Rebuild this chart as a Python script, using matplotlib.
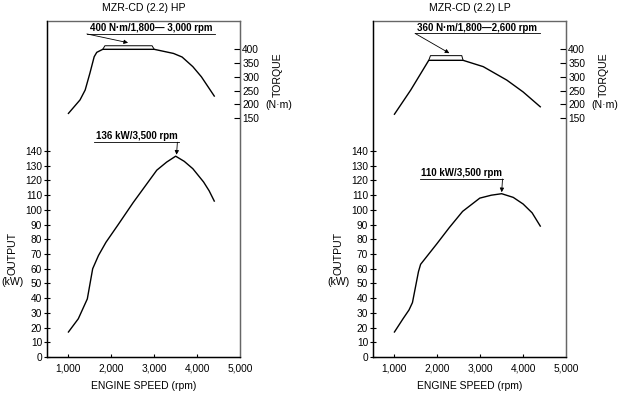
import matplotlib
matplotlib.use('Agg')
import matplotlib.pyplot as plt

plt.rcParams['font.family'] = ['Liberation Sans', 'DejaVu Sans']

# ── data ──────────────────────────────────────────────────────────────
HP_TQ_RPM = [1000, 1270, 1390, 1500, 1600, 1660, 1800, 3000, 3450, 3650, 3900, 4100, 4400]
HP_TQ_NM  = [167, 216, 252, 313, 373, 389, 400, 400, 385, 372, 337, 300, 230]
HP_BAND_RPM = [1800, 1850, 2950, 3000]
HP_BAND_NM  = [400, 413, 413, 400]
HP_KW_RPM = [1000, 1230, 1440, 1565, 1700, 1875, 2160, 2510, 2710, 3060, 3290, 3500,
             3700, 3900, 4150, 4280, 4400]
HP_KW     = [17, 26, 39.5, 60, 69, 78, 90, 105, 113, 127, 132.5, 136.5,
             133, 128, 119, 113, 106]

LP_TQ_RPM = [1000, 1380, 1800, 2600, 3070, 3620, 4000, 4400]
LP_TQ_NM  = [164, 252, 360, 360, 337, 288, 245, 191]
LP_BAND_RPM = [1800, 1840, 2570, 2600]
LP_BAND_NM  = [360, 377, 377, 360]
LP_KW_RPM = [1000, 1200, 1340, 1420, 1560, 1610, 1990, 2280, 2590, 2990, 3260, 3500,
             3770, 4000, 4210, 4400]
LP_KW     = [17, 26, 32, 37, 58, 63, 77, 88, 99, 108, 110, 111,
             108.5, 104, 98, 89]

TQ_TICKS = [150, 200, 250, 300, 350, 400]
KW_TICKS = [0, 10, 20, 30, 40, 50, 60, 70, 80, 90, 100, 110, 120, 130, 140]
RPM_TICKS = [1000, 2000, 3000, 4000, 5000]

W, H = 621, 396
fig = plt.figure(figsize=(W / 100, H / 100), dpi=100)


def px(x, y):
    return x / W, 1 - y / H


def panel(left, title, tq_rpm, tq, band_rpm, band_nm, kw_rpm, kw,
          tq_txt, tq_txt_xy, tq_line, tq_arrow_to,
          kw_txt, kw_txt_xy, kw_line, kw_arrow_to):
    ax = fig.add_axes([left / W, 1 - 357 / H, 193 / W, 336 / H])
    ax.set_xlim(500, 5000)
    ax.set_ylim(0, 228.4)
    ax.plot(kw_rpm, kw, color='k', lw=1.0)
    ax.set_yticks(KW_TICKS)
    ax.set_xticks(RPM_TICKS)
    ax.set_xticklabels([f'{v:,}' for v in RPM_TICKS])
    ax.tick_params(axis='y', direction='inout', length=5, width=0.8,
                   labelsize=7.3, pad=1)
    ax.tick_params(axis='x', direction='in', length=2.5, width=0.8,
                   labelsize=7.3, pad=5)
    ax.xaxis.get_major_ticks()[-1].tick1line.set_visible(False)
    for s in ['top', 'right']:
        ax.spines[s].set_color('#666666')
        ax.spines[s].set_linewidth(1.0)
    for s in ['left', 'bottom']:
        ax.spines[s].set_linewidth(1.0)

    tx = ax.twinx()
    tx.set_ylim(-719, 503)
    tx.plot(tq_rpm, tq, color='k', lw=1.0)
    tx.plot(band_rpm, band_nm, color='k', lw=0.7)
    tx.set_yticks(TQ_TICKS)
    tx.tick_params(axis='y', direction='in', length=4, width=0.8,
                   labelsize=7.3, pad=1.5)
    tx.spines['right'].set_color('#666666')
    tx.spines['top'].set_visible(False)

    # torque annotation with underline
    tx.text(tq_txt_xy[0], tq_txt_xy[1], tq_txt, ha='center', va='bottom',
            fontsize=7, fontweight='bold')
    tx.plot(tq_line[0], [tq_line[1]] * 2, color='k', lw=0.6, clip_on=False)
    tx.annotate('', xy=tq_arrow_to, xytext=(tq_line[0][0], tq_line[1]),
                arrowprops=dict(arrowstyle='-|>', lw=0.6, color='k',
                                mutation_scale=6, shrinkA=0, shrinkB=0))
    # output annotation with underline
    ax.text(kw_txt_xy[0], kw_txt_xy[1], kw_txt, ha='center', va='bottom',
            fontsize=7, fontweight='bold')
    ax.plot(kw_line[0], [kw_line[1]] * 2, color='k', lw=0.6)
    ax.annotate('', xy=kw_arrow_to, xytext=(kw_arrow_to[0] + 20, kw_line[1]),
                arrowprops=dict(arrowstyle='-|>', lw=0.6, color='k',
                                mutation_scale=6, shrinkA=0, shrinkB=0))

    cx = left + 96.5
    fig.text(*px(cx, 8), title, ha='center', va='center', fontsize=7.6)
    fig.text(*px(cx, 386), 'ENGINE SPEED (rpm)', ha='center', va='center',
             fontsize=7.5)
    fig.text(*px(left - 35, 253), 'OUTPUT', ha='center', va='center',
             rotation=90, fontsize=7.6)
    fig.text(*px(left - 34, 282), '(kW)', ha='center', va='center',
             fontsize=7.6)
    fig.text(*px(left + 231, 75), 'TORQUE', ha='center', va='center',
             rotation=90, fontsize=7.6)
    fig.text(*px(left + 232, 105), '(N·m)', ha='center', va='center',
             fontsize=7.6)
    return ax


panel(47, 'MZR-CD (2.2) HP', HP_TQ_RPM, HP_TQ_NM, HP_BAND_RPM, HP_BAND_NM,
      HP_KW_RPM, HP_KW,
      '400 N·m/1,800— 3,000 rpm', (2930, 459), ([1430, 4420], 456), (2390, 424),
      '136 kW/3,500 rpm', (2590, 147), ([1600, 3580], 146), (3520, 137.5))

panel(373, 'MZR-CD (2.2) LP', LP_TQ_RPM, LP_TQ_NM, LP_BAND_RPM, LP_BAND_NM,
      LP_KW_RPM, LP_KW,
      '360 N·m/1,800—2,600 rpm', (2930, 460), ([1480, 4390], 458), (2280, 386),
      '110 kW/3,500 rpm', (2570, 122), ([1600, 3520], 121), (3500, 112))

plt.savefig('out.png', dpi=100)
